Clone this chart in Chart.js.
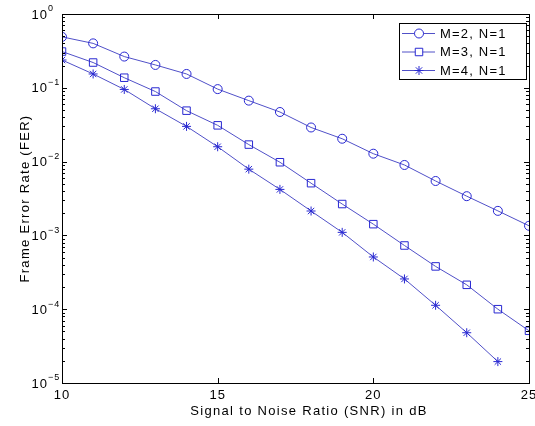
<!DOCTYPE html>
<html>
<head>
<meta charset="utf-8">
<script src="https://cdn.jsdelivr.net/npm/chart.js@4"></script>
<style>
  html, body { margin: 0; padding: 0; background: #fff; }
  #wrap { width: 535px; height: 426px; }
</style>
</head>
<body>
<div id="wrap"><canvas id="myChart" width="535" height="426"></canvas></div>
<script>
// data
const snr = [10, 11, 12, 13, 14, 15, 16, 17, 18, 19, 20, 21, 22, 23, 24, 25];
const ferM2 = [0.49, 0.40, 0.265, 0.204, 0.154, 0.096, 0.067, 0.047, 0.029, 0.0204,
               0.0128, 0.009, 0.00546, 0.0034, 0.00215, 0.00135];
const ferM3 = [0.31, 0.22, 0.137, 0.089, 0.049, 0.031, 0.017, 0.0098, 0.0051, 0.00266,
               0.00142, 0.00073, 0.00038, 0.000214, 0.0001, 0.000051];
const ferM4 = [0.238, 0.154, 0.095, 0.052, 0.030, 0.0159, 0.0079, 0.0042, 0.00214, 0.0011,
               0.00051, 0.000257, 0.000113, 0.000048, 0.0000195];
const seriesNames = ['M=2, N=1', 'M=3, N=1', 'M=4, N=1'];
const xTicks = [10, 15, 20, 25];
const yDecades = [0, -1, -2, -3, -4, -5];

const blue = 'rgb(40, 40, 210)';
const lineBlue = 'rgb(80, 80, 200)';
const font = "'Liberation Sans', Arial, sans-serif";

const toPoints = (ys) => ys.map((v, i) => ({ x: snr[i], y: v }));

const data = {
  datasets: [
    { label: seriesNames[0], data: toPoints(ferM2), pointStyle: 'circle', pointRadius: 4.5 },
    { label: seriesNames[1], data: toPoints(ferM3), pointStyle: 'rect', pointRadius: 5.3 },
    { label: seriesNames[2], data: toPoints(ferM4), pointStyle: 'star', pointRadius: 4.5 },
  ].map(d => Object.assign(d, {
    borderColor: lineBlue,
    borderWidth: 1,
    pointBorderColor: blue,
    pointBackgroundColor: 'rgba(0,0,0,0)',
    pointBorderWidth: 1,
    pointHoverRadius: d.pointRadius,
    tension: 0,
  })),
};

// MATLAB-like frame: box, inward ticks, superscript labels, legend
const matlabFrame = {
  id: 'matlabFrame',
  afterDraw(chart) {
    const { ctx, chartArea: { top, bottom, left, right }, scales: { x, y } } = chart;
    ctx.save();
    ctx.strokeStyle = '#000';
    ctx.lineWidth = 1;
    ctx.strokeRect(Math.round(left) + 0.5, Math.round(top) + 0.5,
                   Math.round(right - left), Math.round(bottom - top));

    // x ticks
    ctx.beginPath();
    xTicks.forEach(v => {
      const px = Math.round(x.getPixelForValue(v)) + 0.5;
      ctx.moveTo(px, bottom); ctx.lineTo(px, bottom - 5);
      ctx.moveTo(px, top); ctx.lineTo(px, top + 5);
    });
    // y ticks, major and minor
    yDecades.forEach(e => {
      for (let m = 1; m <= 9; m++) {
        const v = m * Math.pow(10, e);
        if (v > 1.0001 || v < 0.99e-5) continue;
        const py = Math.round(y.getPixelForValue(v)) + 0.5;
        const len = m === 1 ? 5 : 3;
        ctx.moveTo(left, py); ctx.lineTo(left + len, py);
        ctx.moveTo(right, py); ctx.lineTo(right - len, py);
      }
    });
    ctx.stroke();

    ctx.fillStyle = '#000';
    ctx.letterSpacing = '1px';
    ctx.font = '13px ' + font;
    ctx.textAlign = 'center';
    ctx.textBaseline = 'middle';
    xTicks.forEach(v => ctx.fillText(String(v), x.getPixelForValue(v), bottom + 12.5));

    yDecades.forEach(e => {
      const py = y.getPixelForValue(Math.pow(10, e));
      ctx.font = '13px ' + font;
      ctx.textAlign = 'right';
      ctx.textBaseline = 'middle';
      ctx.fillText('10', left - 14, py + 1);
      ctx.font = '9px ' + font;
      ctx.textAlign = 'left';
      ctx.fillText(e === 0 ? '0' : '\u2212' + (-e), left - 14, py - 5);
    });

    // axis titles
    ctx.letterSpacing = '1.3px';
    ctx.font = '13px ' + font;
    ctx.textAlign = 'center';
    ctx.textBaseline = 'middle';
    ctx.fillText('Signal to Noise Ratio (SNR) in dB', 309, 411);
    ctx.save();
    ctx.translate(25, (top + bottom) / 2);
    ctx.rotate(-Math.PI / 2);
    ctx.fillText('Frame Error Rate (FER)', 0, 0);
    ctx.restore();

    // legend
    const lx = 399, ly = 23, lw = 127, lh = 56;
    ctx.fillStyle = '#fff';
    ctx.fillRect(lx, ly, lw, lh);
    ctx.strokeStyle = '#000';
    ctx.strokeRect(lx + 0.5, ly + 0.5, lw, lh);
    ctx.letterSpacing = '1.2px';
    ctx.font = '13px ' + font;
    ctx.textAlign = 'left';
    data.datasets.forEach((d, i) => {
      const ry = 33 + i * 18.5;
      ctx.strokeStyle = lineBlue;
      ctx.beginPath();
      ctx.moveTo(402, ry + 0.5); ctx.lineTo(435, ry + 0.5);
      ctx.stroke();
      ctx.strokeStyle = blue;
      ctx.fillStyle = '#fff';
      Chart.helpers.drawPoint(ctx, {
        pointStyle: d.pointStyle, radius: d.pointRadius, rotation: 0,
        borderWidth: 1,
      }, 419, ry + 0.5);
      ctx.fillStyle = '#000';
      ctx.fillText(d.label, 440, ry + 1);
    });
    ctx.restore();
  },
};

const config = {
  type: 'line',
  data,
  options: {
    responsive: false,
    animation: false,
    layout: { padding: { top: 14, right: 6, left: 0, bottom: 0 }, autoPadding: false },
    plugins: { legend: { display: false }, tooltip: { enabled: false } },
    scales: {
      x: {
        type: 'linear', min: 10, max: 25,
        grid: { display: false }, border: { display: false },
        ticks: { display: false },
        afterFit(scale) { scale.height = 43; },
      },
      y: {
        type: 'logarithmic', min: 1e-5, max: 1,
        grid: { display: false }, border: { display: false },
        ticks: { display: false },
        afterFit(scale) { scale.width = 62; },
      },
    },
  },
  plugins: [matlabFrame],
};

const myChart = new Chart(document.getElementById('myChart'), config);
</script>
</body>
</html>
